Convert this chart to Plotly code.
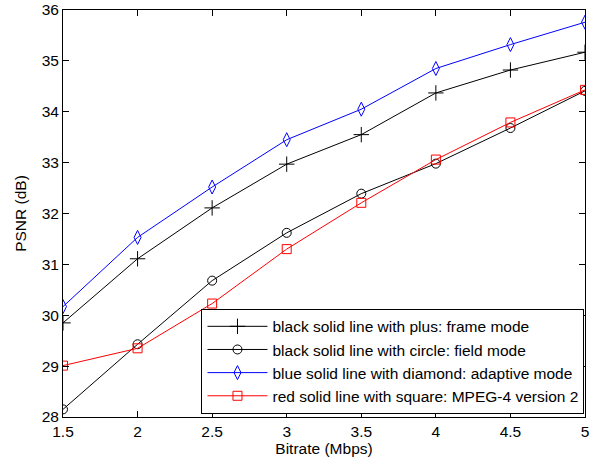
import plotly.graph_objects as go

bitrate = [1.5, 2, 2.5, 3, 3.5, 4, 4.5, 5]
frame_mode = [29.85, 31.11, 32.11, 32.97, 33.55, 34.37, 34.82, 35.17]
field_mode = [28.15, 29.43, 30.68, 31.62, 32.39, 32.98, 33.68, 34.41]
adaptive_mode = [30.17, 31.53, 32.52, 33.45, 34.05, 34.85, 35.32, 35.76]
mpeg4_v2 = [29.01, 29.35, 30.23, 31.30, 32.21, 33.06, 33.79, 34.43]

names = [
    "black solid line with plus: frame mode",
    "black solid line with circle: field mode",
    "blue solid line with diamond: adaptive mode",
    "red solid line with square: MPEG-4 version 2",
]
series = [frame_mode, field_mode, adaptive_mode, mpeg4_v2]
colors = ["black", "black", "#0000ff", "#ff0000"]
symbols = ["cross-thin-open", "circle-open", "diamond-tall-open", "square-open"]
sizes = [11, 9, 10, 9]

FONT = "Liberation Sans, Arial, sans-serif"

fig = go.Figure()
for nm, ys, c, sym, sz in zip(names, series, colors, symbols, sizes):
    fig.add_trace(go.Scatter(
        x=bitrate, y=ys, name=nm, mode="lines+markers",
        line=dict(color=c, width=1),
        marker=dict(symbol=sym, size=sz, color=c, line=dict(color=c, width=1)),
    ))

axis_common = dict(
    showline=True, linecolor="black", linewidth=1, mirror="ticks",
    ticks="inside", ticklen=6, tickcolor="black", tickwidth=1,
    showgrid=False, zeroline=False, automargin=False,
    ticklabeloverflow="allow",
    tickfont=dict(family=FONT, size=15.5, color="black"),
)

fig.update_layout(
    width=603, height=464,
    margin=dict(l=63, r=18, t=10, b=47),
    paper_bgcolor="white", plot_bgcolor="white",
    font=dict(family=FONT, size=15.5, color="black"),
    showlegend=True,
    legend=dict(
        x=0.999, y=0.008, xanchor="right", yanchor="bottom",
        bgcolor="white", bordercolor="black", borderwidth=1,
        font=dict(family=FONT, size=15.5, color="black"),
        itemwidth=60,
    ),
    xaxis=dict(
        range=[1.5, 5], tickvals=bitrate,
        ticktext=["1.5", "2", "2.5", "3", "3.5", "4", "4.5", "5"],
        title=dict(text="Bitrate (Mbps)", standoff=0,
                   font=dict(family=FONT, size=15.5, color="black")),
        **axis_common,
    ),
    yaxis=dict(
        range=[28, 36], dtick=1,
        title=dict(text="PSNR (dB)", standoff=11,
                   font=dict(family=FONT, size=15.5, color="black")),
        **axis_common,
    ),
)

fig.write_html("out.html", config={"displayModeBar": False},
               post_script="document.body.style.margin='0';")
